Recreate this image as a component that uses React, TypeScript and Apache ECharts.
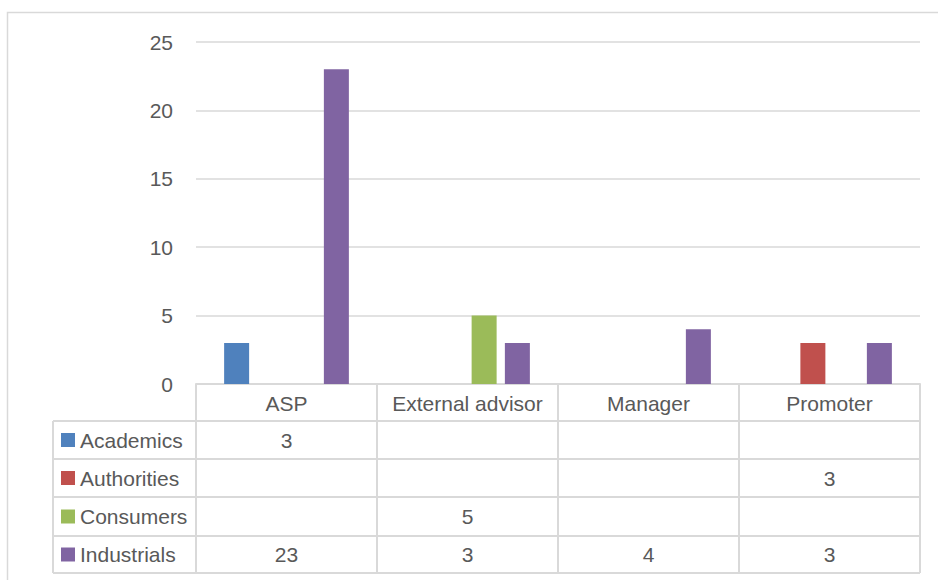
import React, { useEffect, useRef } from "react";
import * as echarts from "echarts";

const categories = ["ASP", "External advisor", "Manager", "Promoter"];
const seriesNames = ["Academics", "Authorities", "Consumers", "Industrials"];
const academics: (number | null)[] = [3, null, null, null];
const authorities: (number | null)[] = [null, null, null, 3];
const consumers: (number | null)[] = [null, 5, null, null];
const industrials: (number | null)[] = [23, 3, 4, 3];
const seriesColors = ["#4F81BD", "#C0504D", "#9BBB59", "#8064A2"];
const yMin = 0;
const yMax = 25;
const yInterval = 5;

const W = 938;
const H = 580;
const FONT = "Liberation Sans, Arial, sans-serif";
const TEXT = "#595959";
const LINE = "#d9d9d9";

export default function App() {
  const ref = useRef<HTMLDivElement>(null);
  useEffect(() => {
    document.body.style.margin = "0";
    if (!ref.current) return;
    const chart = echarts.init(ref.current, null, { renderer: "svg" });
    const gridLeft = 196;
    const gridRight = 920;
    const gridTop = 42;
    const gridBottom = 384;
    const tableLeft = 53;
    const rowBounds = [384, 421, 459, 497, 536, 573];
    const colW = (gridRight - gridLeft) / categories.length;
    const allData = [academics, authorities, consumers, industrials];

    const graphics: any[] = [];
    // outer border
    graphics.push({
      type: "rect",
      shape: { x: 7.5, y: 12.5, width: 960, height: 600 },
      style: { fill: "none", stroke: LINE, lineWidth: 1.5 },
      silent: true,
    });
    // horizontal table lines
    rowBounds.forEach((y, i) => {
      if (i === 0) return;
      graphics.push({
        type: "line",
        shape: { x1: tableLeft, y1: y, x2: gridRight, y2: y },
        style: { stroke: LINE, lineWidth: 2 },
        silent: true,
      });
    });
    // vertical table lines
    graphics.push({
      type: "line",
      shape: { x1: tableLeft, y1: rowBounds[1], x2: tableLeft, y2: rowBounds[rowBounds.length - 1] },
      style: { stroke: LINE, lineWidth: 2 },
      silent: true,
    });
    for (let c = 0; c <= categories.length; c++) {
      const x = gridLeft + c * colW;
      graphics.push({
        type: "line",
        shape: { x1: x, y1: rowBounds[0], x2: x, y2: rowBounds[rowBounds.length - 1] },
        style: { stroke: LINE, lineWidth: 2 },
        silent: true,
      });
    }
    // legend keys + names + values
    seriesNames.forEach((name, r) => {
      const yc = (rowBounds[r + 1] + rowBounds[r + 2]) / 2;
      graphics.push({
        type: "rect",
        shape: { x: 61, y: yc - 7, width: 14, height: 14 },
        style: { fill: seriesColors[r] },
        silent: true,
      });
      graphics.push({
        type: "text",
        x: 80,
        y: yc,
        style: {
          text: name,
          fill: TEXT,
          font: `21px ${FONT}`,
          verticalAlign: "middle",
          align: "left",
        },
        silent: true,
      });
      allData[r].forEach((v, c) => {
        if (v === null || v === undefined) return;
        graphics.push({
          type: "text",
          x: gridLeft + (c + 0.5) * colW,
          y: yc,
          style: {
            text: String(v),
            fill: TEXT,
            font: `21px ${FONT}`,
            verticalAlign: "middle",
            align: "center",
          },
          silent: true,
        });
      });
    });

    chart.setOption({
      animation: false,
      backgroundColor: "#fff",
      grid: {
        left: gridLeft,
        right: W - gridRight,
        top: gridTop,
        bottom: H - gridBottom,
        containLabel: false,
      },
      xAxis: {
        type: "category",
        data: categories,
        axisLine: { lineStyle: { color: LINE, width: 2 } },
        axisTick: { show: false },
        axisLabel: {
          color: TEXT,
          fontFamily: FONT,
          fontSize: 21,
          margin: 9,
          interval: 0,
        },
      },
      yAxis: {
        type: "value",
        min: yMin,
        max: yMax,
        interval: yInterval,
        axisLine: { show: false },
        axisTick: { show: false },
        splitLine: { lineStyle: { color: LINE, width: 1.5 } },
        axisLabel: {
          color: TEXT,
          fontFamily: FONT,
          fontSize: 21,
          margin: 23,
        },
      },
      series: seriesNames.map((name, i) => ({
        name,
        type: "bar",
        data: allData[i],
        barWidth: 25,
        barGap: "33%",
        itemStyle: { color: seriesColors[i] },
      })),
      graphic: graphics,
    });
    return () => chart.dispose();
  }, []);
  return (
    <div
      ref={ref}
      style={{ position: "absolute", left: 0, top: 0, width: W, height: H }}
    />
  );
}
